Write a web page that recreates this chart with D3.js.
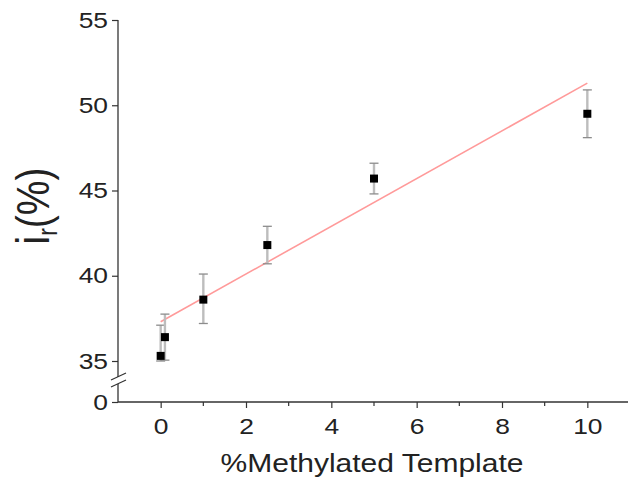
<!DOCTYPE html>
<html>
<head>
<meta charset="utf-8">
<script src="https://cdn.jsdelivr.net/npm/d3@7"></script>
<style>
  body { margin: 0; background: #fff; }
  text { font-family: Arial, "Liberation Sans", sans-serif; fill: #222; }
</style>
</head>
<body>
<script>
//data
var template = [0, 0.1, 1, 2.5, 5, 10];
var ir = [35.3, 36.4, 38.6, 41.8, 45.7, 49.5];
var errLow = [35.0, 35.05, 37.2, 40.7, 44.8, 48.1];
var errHigh = [37.1, 37.75, 40.1, 42.9, 46.6, 50.9];
var fitX = [0, 10];
var fitY = [37.3, 51.3];
var yTicks = [35, 40, 45, 50, 55];
var xTicks = [0, 2, 4, 6, 8, 10];

var width = 628, height = 487;
var stretch = 1.2; //the reference text is drawn a bit wide

var svg = d3.select("body").append("svg")
    .attr("width", width)
    .attr("height", height);

//scales
var x = d3.scaleLinear().domain([-1, 11]).range([118, 630]);
var y = d3.scaleLinear().domain([35, 55]).range([361, 20]);
//lower segment of broken axis, only holds 0
var yLow = d3.scaleLinear().domain([0, 1]).range([402, 385]);

var axisColor = "#333";

//widen tick label text around its own anchor
function widen(sel){
    sel.each(function(){
        var t = d3.select(this);
        var tx = +t.attr("x") || 0;
        t.attr("x", tx / stretch).attr("transform", "scale(" + stretch + ",1)");
    });
}

//y axis upper part
var yAxis = svg.append("g")
    .attr("transform", "translate(118,0)")
    .call(d3.axisLeft(y).tickValues(yTicks).tickSize(6).tickPadding(4));
yAxis.select(".domain").remove();
svg.append("line")
    .attr("x1", 118).attr("x2", 118)
    .attr("y1", y(55)).attr("y2", 377)
    .attr("stroke", axisColor).attr("stroke-width", 1.3);

//y axis lower part
var yAxisLow = svg.append("g")
    .attr("transform", "translate(118,0)")
    .call(d3.axisLeft(yLow).tickValues([0]).tickFormat(d3.format("d")).tickSize(6).tickPadding(4));
yAxisLow.select(".domain").remove();
svg.append("line")
    .attr("x1", 118).attr("x2", 118)
    .attr("y1", 384).attr("y2", yLow(0))
    .attr("stroke", axisColor).attr("stroke-width", 1.3);

//break marks
[0, 7].forEach(function(off){
    svg.append("line")
        .attr("x1", 111).attr("y1", 380 + off)
        .attr("x2", 126).attr("y2", 373 + off)
        .attr("stroke", axisColor).attr("stroke-width", 1.2);
});

//x axis
var xAxis = svg.append("g")
    .attr("transform", "translate(0," + yLow(0) + ")")
    .call(d3.axisBottom(x).tickValues(xTicks).tickSize(6).tickPadding(10));
xAxis.select(".domain").remove();
svg.append("line")
    .attr("x1", 118).attr("x2", width)
    .attr("y1", yLow(0)).attr("y2", yLow(0))
    .attr("stroke", axisColor).attr("stroke-width", 1.3);
//minor x ticks
svg.selectAll(".minor")
    .data([1, 3, 5, 7, 9])
    .enter()
    .append("line")
    .attr("class", "minor")
    .attr("x1", function(d){ return x(d); })
    .attr("x2", function(d){ return x(d); })
    .attr("y1", yLow(0)).attr("y2", yLow(0) + 4)
    .attr("stroke", axisColor).attr("stroke-width", 1.2);

svg.selectAll(".tick line").attr("stroke", axisColor).attr("stroke-width", 1.2);
svg.selectAll(".tick text").style("font-size", "22px").attr("fill", "#222").call(widen);

//axis titles
svg.append("text")
    .attr("transform", "translate(372,472) scale(" + stretch + ",1)")
    .attr("text-anchor", "middle")
    .style("font-size", "25px")
    .text("%Methylated Template");

var ylab = svg.append("text")
    .attr("transform", "translate(49,206) scale(" + stretch + ",1) rotate(-90)")
    .attr("text-anchor", "middle")
    .style("font-size", "39px");
ylab.append("tspan").text("i");
ylab.append("tspan").attr("dy", 7).style("font-size", "23px").text("r");
ylab.append("tspan").attr("dy", -7).text("(%)");

//fit line
var line = d3.line()
    .x(function(d){ return x(d[0]); })
    .y(function(d){ return y(d[1]); });
svg.append("path")
    .datum(d3.zip(fitX, fitY))
    .attr("d", line)
    .attr("fill", "none")
    .attr("stroke", "#ff9a9a")
    .attr("stroke-width", 1.6);

//error bars
var pts = template.map(function(t, i){
    return {x: t, y: ir[i], lo: errLow[i], hi: errHigh[i]};
});
var err = svg.selectAll(".err")
    .data(pts)
    .enter()
    .append("g")
    .attr("class", "err");
err.append("line")
    .attr("x1", function(d){ return x(d.x); })
    .attr("x2", function(d){ return x(d.x); })
    .attr("y1", function(d){ return y(d.lo); })
    .attr("y2", function(d){ return y(d.hi); })
    .attr("stroke", "#bdbdbd")
    .attr("stroke-width", 2.4);
[ "lo", "hi" ].forEach(function(k){
    err.append("line")
        .attr("x1", function(d){ return x(d.x) - 4.5; })
        .attr("x2", function(d){ return x(d.x) + 4.5; })
        .attr("y1", function(d){ return y(d[k]); })
        .attr("y2", function(d){ return y(d[k]); })
        .attr("stroke", "#8c8c8c")
        .attr("stroke-width", 1.3);
});

//markers
svg.selectAll(".pt")
    .data(pts)
    .enter()
    .append("rect")
    .attr("class", "pt")
    .attr("x", function(d){ return x(d.x) - 4; })
    .attr("y", function(d){ return y(d.y) - 4; })
    .attr("width", 8)
    .attr("height", 8)
    .attr("fill", "#000");
</script>
</body>
</html>
